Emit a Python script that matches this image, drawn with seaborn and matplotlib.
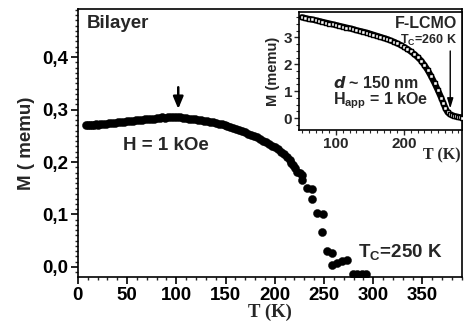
import matplotlib
matplotlib.use("Agg")
import matplotlib.pyplot as plt
import seaborn as sns
import pandas as pd
from matplotlib.ticker import MultipleLocator

# ---------------- data ----------------
bilayer_T = [8, 10, 12, 14, 16, 18, 20, 23, 26, 29, 32, 35, 38, 41, 44, 47, 50, 53, 56, 59,
             62, 65, 68, 71, 74, 77, 80, 83, 86, 89, 92, 95, 98, 101, 104, 107, 110, 113, 116, 119,
             122, 125, 128, 131, 134, 137, 140, 143, 146, 149, 152, 155, 158, 161, 164, 167, 170, 173,
             176, 179, 182, 185, 188, 191, 194, 197, 200, 203, 206, 209, 212, 215, 217, 219, 221, 223,
             226, 228, 228, 233, 238, 238, 243, 249, 248, 253, 258, 258, 263, 268, 273, 279, 284, 289, 293]
bilayer_M = [0.271, 0.270, 0.271, 0.270, 0.271, 0.272, 0.271, 0.272, 0.273, 0.273, 0.274, 0.274, 0.275, 0.276,
             0.276, 0.277, 0.278, 0.278, 0.279, 0.280, 0.281, 0.281, 0.282, 0.282, 0.283, 0.283, 0.284, 0.284,
             0.285, 0.284, 0.285, 0.285, 0.286, 0.285, 0.285, 0.284, 0.284, 0.283, 0.283, 0.282, 0.281, 0.280,
             0.279, 0.278, 0.277, 0.276, 0.275, 0.273, 0.272, 0.270, 0.269, 0.267, 0.265, 0.263, 0.261, 0.259,
             0.257, 0.254, 0.252, 0.249, 0.247, 0.244, 0.241, 0.238, 0.234, 0.231, 0.228, 0.224, 0.220, 0.216,
             0.210, 0.203, 0.198, 0.194, 0.188, 0.181, 0.180, 0.175, 0.166, 0.150, 0.148, 0.130, 0.103, 0.100,
             0.066, 0.030, 0.026, 0.004, 0.008, 0.012, 0.013, -0.013, -0.013, -0.013, -0.014]

film_T = [50, 55, 60, 65, 70, 75, 80, 85, 90, 95, 100, 105, 110, 115, 120, 125, 130, 135, 140, 145,
          150, 155, 160, 165, 170, 175, 180, 185, 190, 195, 200, 205, 210, 215, 220, 225, 230, 235,
          240, 245, 250, 255, 258, 261, 264, 267, 270, 273, 276, 279, 282, 285]
film_M = [3.75, 3.72, 3.69, 3.67, 3.64, 3.61, 3.58, 3.55, 3.52, 3.49, 3.46, 3.43, 3.40, 3.37, 3.34, 3.31,
          3.27, 3.24, 3.21, 3.18, 3.14, 3.10, 3.06, 3.02, 2.98, 2.94, 2.89, 2.84, 2.78, 2.72, 2.65, 2.57,
          2.48, 2.38, 2.27, 2.14, 1.97, 1.78, 1.55, 1.30, 1.03, 0.74, 0.55, 0.36, 0.22, 0.15, 0.11, 0.08,
          0.06, 0.04, 0.03, 0.02]

main_xticks = [0, 50, 100, 150, 200, 250, 300, 350]
main_yticks = [0.0, 0.1, 0.2, 0.3, 0.4]
main_ytick_labels = ["0,0", "0,1", "0,2", "0,3", "0,4"]
inset_xticks = [100, 200]
inset_yticks = [0, 1, 2, 3]

# ---------------- style ----------------
sns.set_theme(style="ticks")
plt.rcParams["font.family"] = ["Liberation Sans", "DejaVu Sans"]
plt.rcParams["font.weight"] = "bold"
plt.rcParams["axes.linewidth"] = 1.2

fig = plt.figure(figsize=(4.66, 3.32), dpi=100)
ax = fig.add_axes([0.167, 0.166, 0.824, 0.807])

df_main = pd.DataFrame({"T": bilayer_T, "M": bilayer_M})
sns.scatterplot(data=df_main, x="T", y="M", ax=ax, color="black", s=34,
                edgecolor="black", linewidth=0.3, marker="o", legend=False, zorder=3)

ax.set_xlim(0, 390)
ax.set_ylim(-0.019, 0.492)
ax.set_xticks(main_xticks)
ax.set_xticklabels([str(v) for v in main_xticks])
ax.set_yticks(main_yticks)
ax.set_yticklabels(main_ytick_labels)
ax.xaxis.set_minor_locator(MultipleLocator(10))
ax.yaxis.set_minor_locator(MultipleLocator(0.01))
ax.tick_params(axis="both", which="major", direction="out", length=5, width=1.2,
               labelsize=13.5, pad=2, colors="black")
ax.tick_params(axis="both", which="minor", direction="out", length=2.5, width=1.0)
for lab in ax.get_xticklabels() + ax.get_yticklabels():
    lab.set_fontweight("bold")
for sp in ax.spines.values():
    sp.set_visible(True)
    sp.set_color("black")

ax.set_xlabel("T (K)", fontsize=13.5, fontweight="bold",
              family=["Liberation Serif", "DejaVu Serif"], labelpad=0)
ax.set_ylabel("M ( memu)", fontsize=13.5, fontweight="bold", labelpad=5)

ax.text(9, 0.465, "Bilayer", fontsize=13.5, fontweight="bold", ha="left", va="center")
ax.text(89, 0.232, "H = 1 kOe", fontsize=13.5, fontweight="bold", ha="center", va="center")
ax.text(285, 0.027, r"T$_\mathregular{C}$=250 K", fontsize=13.5, fontweight="bold",
        ha="left", va="center")
ax.annotate("", xy=(102, 0.296), xytext=(102, 0.348),
            arrowprops=dict(arrowstyle="-|>,head_width=0.25,head_length=0.6",
                            color="black", lw=1.8))

# ---------------- inset ----------------
ins = fig.add_axes([0.642, 0.608, 0.349, 0.356])
df_ins = pd.DataFrame({"T": film_T, "M": film_M})
sns.lineplot(data=df_ins, x="T", y="M", ax=ins, color="black", lw=4.5, legend=False)
sns.scatterplot(data=df_ins, x="T", y="M", ax=ins, marker="s", s=6,
                facecolor="white", edgecolor="black", linewidth=1.0, legend=False, zorder=3)
ins.set_xlim(46, 285)
ins.set_ylim(-0.45, 3.95)
ins.set_xticks(inset_xticks)
ins.set_xticklabels([str(v) for v in inset_xticks])
ins.set_yticks(inset_yticks)
ins.set_yticklabels([str(v) for v in inset_yticks])
ins.xaxis.set_minor_locator(MultipleLocator(10))
ins.yaxis.set_minor_locator(MultipleLocator(0.25))
ins.tick_params(axis="both", which="major", direction="out", length=3.5, width=1.0,
                labelsize=11, pad=1.5)
ins.tick_params(axis="both", which="minor", direction="out", length=2, width=0.8)
for lab in ins.get_xticklabels() + ins.get_yticklabels():
    lab.set_fontweight("bold")
for sp in ins.spines.values():
    sp.set_visible(True)
    sp.set_color("black")
    sp.set_linewidth(1.2)
ins.set_xlabel("T (K)", fontsize=11.5, fontweight="bold",
               family=["Liberation Serif", "DejaVu Serif"], labelpad=1)
ins.xaxis.set_label_coords(0.99, -0.15)
ins.xaxis.label.set_ha("right")
ins.set_ylabel("M (memu)", fontsize=10.5, fontweight="bold", labelpad=3)

ins.text(0.97, 0.90, "F-LCMO", transform=ins.transAxes, fontsize=11.5, fontweight="bold",
         ha="right", va="center")
ins.text(0.97, 0.755, r"T$_\mathregular{C}$=260 K", transform=ins.transAxes, fontsize=9,
         fontweight="bold", ha="right", va="center")
ins.text(0.21, 0.40, r"$\mathbf{\mathit{d}}$ ~ 150 nm", transform=ins.transAxes, fontsize=11.5,
         fontweight="bold", ha="left", va="center")
ins.text(0.21, 0.25, r"H$_\mathregular{app}$ = 1 kOe", transform=ins.transAxes, fontsize=11.5,
         fontweight="bold", ha="left", va="center")
ins.annotate("", xy=(268, 0.25), xytext=(268, 2.6),
             arrowprops=dict(arrowstyle="-|>,head_width=0.15,head_length=0.5",
                             color="black", lw=1.0))

fig.savefig("out.png", dpi=100)
